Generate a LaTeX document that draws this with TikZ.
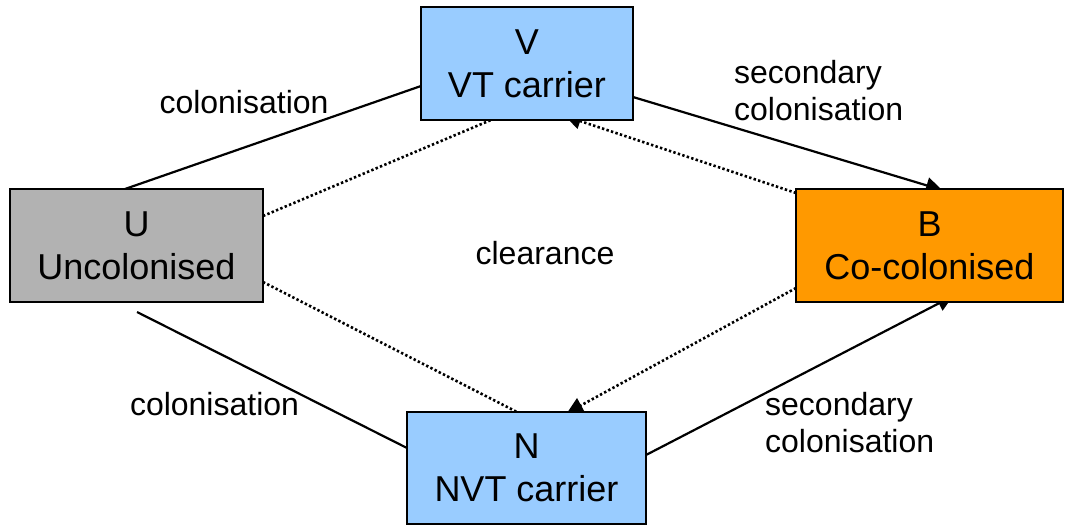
\documentclass[tikz,border=0pt]{standalone}
\usepackage{fontspec}
\setmainfont{Liberation Sans}
\usetikzlibrary{arrows.meta,calc}
\pgfdeclarelayer{background}
\pgfsetlayers{background,main}
\definecolor{carrierblue}{HTML}{99CCFF}
\definecolor{uncolgray}{HTML}{B2B2B2}
\definecolor{cocolorange}{HTML}{FF9900}
\tikzset{
  statebox/.style={draw=black, line width=2.5pt, rectangle, outer sep=0pt,
    inner sep=0pt, align=center, font=\fontsize{36}{43}\selectfont,
    execute at begin node={\rule{0pt}{30pt}}},
  translabel/.style={inner sep=0pt, font=\fontsize{32}{36.3}\selectfont},
  solidlink/.style={line width=2.2pt, draw=black},
  dotlink/.style={line width=2.6pt, draw=black, dash pattern=on 2.4pt off 2.3pt},
  tip/.style={-{Triangle[length=16pt,width=16pt]}}
}
\begin{document}
\begin{tikzpicture}[x=1pt,y=-1pt]
  \useasboundingbox (0,0) rectangle (1066,525);

  % compartments
  \node[statebox, fill=carrierblue, minimum width=212pt, minimum height=113pt] (V) at (527,63.5) {V\\VT carrier};
  \node[statebox, fill=uncolgray, minimum width=253pt, minimum height=113pt] (U) at (136.5,245.5) {U\\Uncolonised};
  \node[statebox, fill=cocolorange, minimum width=267pt, minimum height=113pt] (B) at (929.5,245.5) {B\\Co-colonised};
  \node[statebox, fill=carrierblue, minimum width=239pt, minimum height=112pt] (N) at (526.5,468) {N\\NVT carrier};

  % transitions, kept under the boxes
  \begin{pgfonlayer}{background}
    % colonisation
    \draw[solidlink] ($(U.north west)+(115,0)$) -- ($(V.north west)+(0,79)$);
    \coordinate (Ubelow) at ($(U.south west)+(127,10)$);
    \draw[solidlink] (Ubelow) -- ($(N.north west)+(0,36)$);
    % secondary colonisation
    \draw[solidlink, tip] ($(V.north east)+(0,90)$) -- ($(B.north west)+(146,1)$);
    \draw[solidlink, tip] ($(N.north east)+(0,43)$) -- ($(B.south west)+(157,-6)$);
    % clearance
    \draw[dotlink] ($(U.north east)+(0,27)$) -- ($(V.south west)+(70,0)$);
    \draw[dotlink] ($(U.north east)+(0,93)$) -- ($(N.north west)+(110,0)$);
    \draw[dotlink, tip] ($(B.north west)+(0,4)$) -- ($(V.south west)+(144,-4)$);
    \draw[dotlink, tip] ($(B.north west)+(0,99)$) -- ($(N.north west)+(160,1)$);
  \end{pgfonlayer}

  % labels
  \node[translabel, anchor=base] (lcolup) at (244,113) {colonisation};
  \node[translabel, anchor=base] (lcollow) at (214.5,415) {colonisation};
  \node[translabel, anchor=base] (lclear) at (545,264) {clearance};
  \node[translabel, anchor=west, align=left] (lsecup) at (734,90.5) {secondary\\colonisation};
  \node[translabel, anchor=west, align=left] (lseclow) at (765,422.5) {secondary\\colonisation};
\end{tikzpicture}
\end{document}
